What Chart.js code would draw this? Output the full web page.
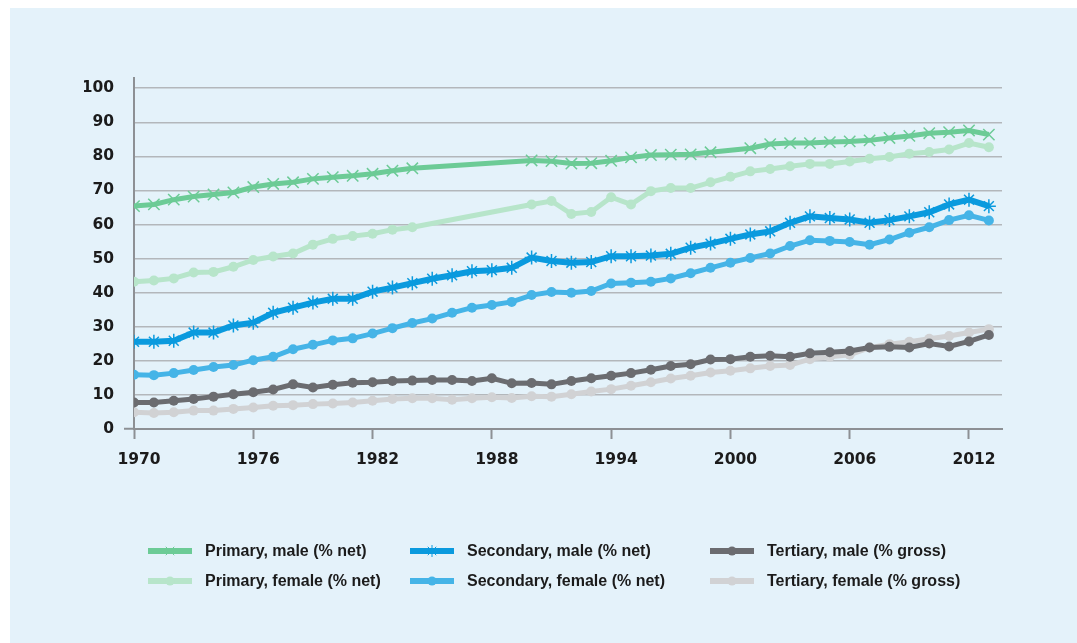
<!DOCTYPE html>
<html>
<head>
<meta charset="utf-8">
<script src="https://cdn.jsdelivr.net/npm/chart.js@4/dist/chart.umd.min.js"></script>
<style>
  html, body { margin: 0; padding: 0; background: #fff; }
  #wrap { position: relative; width: 1077px; height: 643px; }
</style>
</head>
<body>
<div id="wrap"><canvas id="chart" width="1077" height="643"></canvas></div>
<script>
// Enrolment ratios, 1970-2013
const years = [];
for (let y = 1970; y <= 2013; y++) years.push(y);

const yTickValues = [0, 10, 20, 30, 40, 50, 60, 70, 80, 90, 100];
const xTickValues = [1970, 1976, 1982, 1988, 1994, 2000, 2006, 2012];

const primaryMale = [
  65.4, 65.9, 67.3, 68.2, 68.8, 69.4, 71.0,
  71.9, 72.4, 73.4, 73.9, 74.3, 74.9, 75.8,
  76.5, null, null, null, null, null, 78.8,
  78.6, 77.9, 78.0, 78.7, 79.7, 80.4, 80.5,
  80.6, 81.2, null, 82.4, 83.6, 83.9, 83.9,
  84.2, 84.4, 84.7, 85.4, 86.0, 86.8, 87.1, 87.6, 86.4
];
const primaryFemale = [
  43.2, 43.6, 44.2, 45.9, 46.1, 47.6, 49.6,
  50.6, 51.5, 54.1, 55.8, 56.6, 57.3, 58.5,
  59.2, null, null, null, null, null, 65.9,
  66.9, 63.1, 63.7, 68.0, 65.9, 69.8, 70.7,
  70.7, 72.4, 74.0, 75.6, 76.3, 77.1, 77.8,
  77.8, 78.5, 79.3, 79.8, 80.8, 81.3, 82.0, 83.9, 82.7
];
const secondaryMale = [
  25.6, 25.6, 25.9, 28.3, 28.3, 30.4, 31.2,
  34.1, 35.6, 37.1, 38.2, 38.2, 40.3, 41.5,
  42.8, 44.1, 45.1, 46.3, 46.6, 47.3, 50.3,
  49.3, 48.8, 49.0, 50.7, 50.7, 50.9, 51.4,
  53.2, 54.4, 55.8, 57.1, 58.0, 60.5, 62.4,
  61.9, 61.5, 60.5, 61.3, 62.4, 63.6, 65.9, 67.3, 65.4
];
const secondaryFemale = [
  15.9, 15.8, 16.4, 17.3, 18.2, 18.8, 20.2,
  21.2, 23.4, 24.7, 26.0, 26.6, 28.0, 29.6,
  31.1, 32.4, 34.1, 35.6, 36.4, 37.3, 39.3,
  40.2, 40.0, 40.5, 42.7, 42.9, 43.2, 44.2,
  45.7, 47.3, 48.8, 50.2, 51.5, 53.7, 55.4,
  55.2, 54.9, 54.1, 55.6, 57.6, 59.2, 61.3, 62.7, 61.2
];
const tertiaryMale = [
  7.8, 7.8, 8.3, 8.8, 9.5, 10.2, 10.8,
  11.6, 13.1, 12.2, 13.0, 13.6, 13.7, 14.1,
  14.2, 14.4, 14.4, 14.1, 14.9, 13.4, 13.5,
  13.1, 14.1, 14.9, 15.6, 16.4, 17.4, 18.5,
  19.0, 20.4, 20.5, 21.2, 21.5, 21.2, 22.2,
  22.5, 22.9, 23.9, 24.1, 23.9, 25.1, 24.2, 25.7, 27.6
];
const tertiaryFemale = [
  4.9, 4.7, 4.9, 5.4, 5.4, 5.9, 6.3,
  6.8, 7.0, 7.3, 7.5, 7.8, 8.3, 8.8,
  9.0, 9.0, 8.6, 9.0, 9.3, 9.1, 9.6,
  9.5, 10.2, 11.0, 11.7, 12.7, 13.7, 14.8,
  15.6, 16.6, 17.1, 17.8, 18.5, 18.8, 20.5,
  21.2, 21.8, 23.9, 24.9, 25.6, 26.5, 27.3, 28.3, 29.3
];

const toPoints = arr => years.map((y, i) => ({ x: y, y: arr[i] }));

const panelColor = "#e4f2fa";
const gridColor = "#b3b7bb";
const axisColor = "#8d9094";
const textColor = "#1b1b1b";

// one line dataset, with legend slot (column/row)
function series(label, data, color, style, col, row) {
  const isMarker = style !== "circle";
  return {
    label: label,
    data: toPoints(data),
    borderColor: color,
    backgroundColor: color,
    borderWidth: label.startsWith("Secondary, male") ? 6 : 5,
    pointStyle: style,
    pointRadius: style === "crossRot" ? 8 : (style === "star" ? 7 : 5),
    pointBorderWidth: isMarker ? 1.5 : 0,
    pointBorderColor: color,
    pointBackgroundColor: color,
    pointHoverRadius: 5,
    spanGaps: true,
    tension: 0,
    legendCol: col,
    legendRow: row
  };
}

// panel background
const panelPlugin = {
  id: "panel",
  beforeDraw(chart) {
    const ctx = chart.ctx;
    ctx.save();
    ctx.fillStyle = panelColor;
    ctx.fillRect(10, 8, chart.width - 10, chart.height - 8);
    ctx.restore();
  }
};

// legend in 3 columns x 2 rows, as in the picture
const legendPlugin = {
  id: "gridLegend",
  afterDraw(chart) {
    const ctx = chart.ctx;
    const colX = [148, 410, 710];
    const rowY = [551, 581];
    ctx.save();
    chart.data.datasets.forEach(ds => {
      const x = colX[ds.legendCol];
      const y = rowY[ds.legendRow];
      ctx.strokeStyle = ds.borderColor;
      ctx.lineWidth = 6;
      ctx.beginPath();
      ctx.moveTo(x, y);
      ctx.lineTo(x + 44, y);
      ctx.stroke();
      // small marker in the middle of the sample line
      const circle = ds.pointStyle === "circle";
      ctx.fillStyle = ds.borderColor;
      ctx.lineWidth = 1;
      Chart.helpers.drawPoint(ctx, {
        pointStyle: ds.pointStyle,
        radius: circle ? 4.5 : 6,
        borderWidth: circle ? 0 : 1
      }, x + 22, y);
      ctx.fillStyle = textColor;
      ctx.font = "bold 16px 'Liberation Sans', Arial, sans-serif";
      ctx.textBaseline = "middle";
      ctx.textAlign = "left";
      ctx.fillText(ds.label, x + 57, y + 1);
    });
    ctx.restore();
  }
};

const ctx = document.getElementById("chart").getContext("2d");
new Chart(ctx, {
  type: "line",
  data: {
    datasets: [
      series("Primary, male (% net)", primaryMale, "#6ccb96", "crossRot", 0, 0),
      series("Secondary, male (% net)", secondaryMale, "#0a9ade", "star", 1, 0),
      series("Tertiary, male (% gross)", tertiaryMale, "#6b6c70", "circle", 2, 0),
      series("Primary, female (% net)", primaryFemale, "#b7e5ca", "circle", 0, 1),
      series("Secondary, female (% net)", secondaryFemale, "#45b4e7", "circle", 1, 1),
      series("Tertiary, female (% gross)", tertiaryFemale, "#d1d2d4", "circle", 2, 1)
    ]
  },
  options: {
    responsive: false,
    animation: false,
    layout: {
      padding: { left: 84, right: 75, top: 78, bottom: 164 }
    },
    plugins: {
      legend: { display: false },
      tooltip: { enabled: false }
    },
    scales: {
      x: {
        type: "linear",
        min: 1970,
        max: 2013.66,
        afterBuildTicks: scale => {
          scale.ticks = xTickValues.map(v => ({ value: v }));
        },
        afterFit: scale => { scale.height = 50; },
        grid: {
          drawOnChartArea: false,
          drawTicks: true,
          tickLength: 10,
          tickColor: axisColor,
          tickWidth: 2
        },
        border: { color: axisColor, width: 2 },
        ticks: {
          padding: 12,
          labelOffset: 5,
          color: textColor,
          font: { family: "'DejaVu Sans', sans-serif", size: 15.5, weight: "bold" },
          callback: v => String(v)
        }
      },
      y: {
        min: 0,
        max: 103,
        afterBuildTicks: scale => {
          scale.ticks = yTickValues.map(v => ({ value: v }));
        },
        afterFit: scale => { scale.width = 50; },
        grid: {
          color: gridColor,
          lineWidth: 1.5,
          drawTicks: true,
          tickLength: 10,
          tickColor: c => (c.tick && c.tick.value === 0 ? axisColor : "rgba(0,0,0,0)"),
          tickWidth: 2
        },
        border: { color: axisColor, width: 2 },
        ticks: {
          padding: 10,
          color: textColor,
          font: { family: "'DejaVu Sans', sans-serif", size: 15.5, weight: "bold" }
        }
      }
    }
  },
  plugins: [panelPlugin, legendPlugin]
});
</script>
</body>
</html>
